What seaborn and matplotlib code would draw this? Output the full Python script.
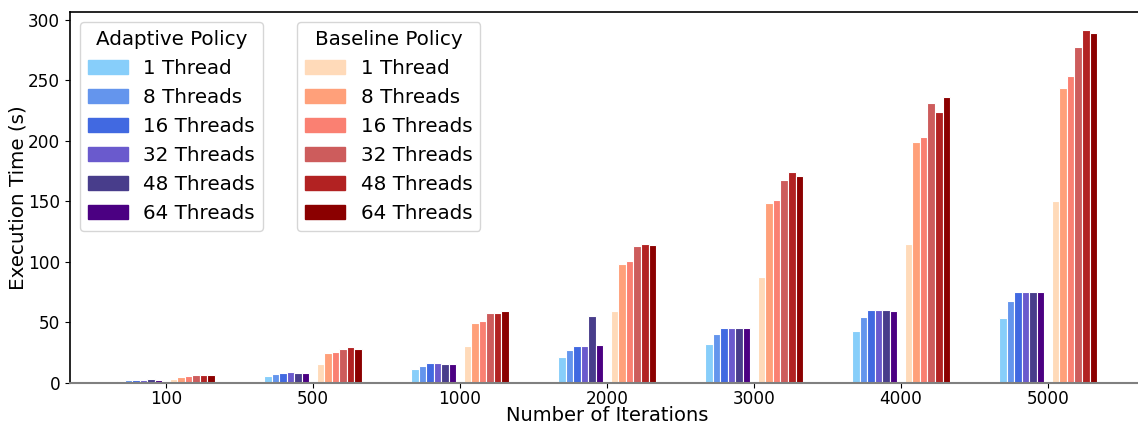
import pandas as pd
import seaborn as sns
import matplotlib.pyplot as plt
from matplotlib.patches import Patch

iterations = ["100", "500", "1000", "2000", "3000", "4000", "5000"]
threads = ["1 Thread", "8 Threads", "16 Threads", "32 Threads", "48 Threads", "64 Threads"]

# adaptive policy, one list per thread count
adaptive_1 = [1.1, 5.3, 11.3, 21.4, 32.0, 42.8, 53.6]
adaptive_8 = [2.0, 7.0, 13.8, 27.0, 40.0, 54.4, 67.6]
adaptive_16 = [2.0, 8.0, 16.3, 30.4, 45.0, 60.0, 75.0]
adaptive_32 = [2.0, 8.5, 16.3, 30.4, 45.0, 60.0, 75.0]
adaptive_48 = [2.7, 8.0, 15.5, 55.0, 45.0, 60.0, 75.0]
adaptive_64 = [2.0, 8.0, 15.5, 31.2, 45.0, 59.4, 75.0]

# baseline policy
baseline_1 = [2.8, 15.5, 30.4, 59.4, 87.5, 115.0, 150.3]
baseline_8 = [4.4, 24.5, 49.5, 98.5, 148.8, 199.0, 244.0]
baseline_16 = [5.2, 25.2, 51.0, 101.0, 151.3, 203.5, 254.0]
baseline_32 = [6.3, 27.7, 57.7, 113.0, 168.0, 231.7, 278.0]
baseline_48 = [6.3, 29.4, 57.7, 115.0, 174.6, 224.3, 292.0]
baseline_64 = [6.3, 27.7, 59.4, 114.0, 171.3, 236.7, 289.5]

adaptive_colors = ["lightskyblue", "cornflowerblue", "royalblue", "slateblue", "darkslateblue", "indigo"]
baseline_colors = ["peachpuff", "lightsalmon", "salmon", "indianred", "firebrick", "darkred"]

adaptive = [adaptive_1, adaptive_8, adaptive_16, adaptive_32, adaptive_48, adaptive_64]
baseline = [baseline_1, baseline_8, baseline_16, baseline_32, baseline_48, baseline_64]

rows = []
for t, vals in zip(threads, adaptive):
    for it, v in zip(iterations, vals):
        rows.append({"Iterations": it, "Series": "Adaptive " + t, "Time": v})
for t, vals in zip(threads, baseline):
    for it, v in zip(iterations, vals):
        rows.append({"Iterations": it, "Series": "Baseline " + t, "Time": v})
df = pd.DataFrame(rows)

# empty slot between the two policies
hue_order = ["Adaptive " + t for t in threads] + ["gap"] + ["Baseline " + t for t in threads]
palette = dict(zip(["Adaptive " + t for t in threads], adaptive_colors))
palette.update(dict(zip(["Baseline " + t for t in threads], baseline_colors)))
palette["gap"] = "white"

fig = plt.figure(figsize=(11.38, 4.24), dpi=100)
ax = fig.add_axes([70 / 1138, 41.3 / 424, 1073.6 / 1138, 370.4 / 424])

sns.barplot(data=df, x="Iterations", y="Time", hue="Series", hue_order=hue_order,
            order=iterations, palette=palette, width=0.667, errorbar=None,
            saturation=1, edgecolor="white", linewidth=0.8, legend=False, ax=ax)

ax.set_xlim(-0.653, 6.65)
ax.set_ylim(0, 306.4)
ax.set_yticks([0, 50, 100, 150, 200, 250, 300])
ax.tick_params(axis="both", labelsize=12.2)
ax.tick_params(axis="x", pad=1.5)
ax.set_xlabel("Number of Iterations", fontsize=14, labelpad=-1.5)
ax.set_ylabel("Execution Time (s)", fontsize=14.3, labelpad=0.5)
for side in ["left", "top", "right"]:
    ax.spines[side].set_linewidth(1.2)
ax.spines["bottom"].set_color("gray")
ax.spines["bottom"].set_linewidth(1.5)

h1 = [Patch(color=c, label=t) for c, t in zip(adaptive_colors, threads)]
h2 = [Patch(color=c, label=t) for c, t in zip(baseline_colors, threads)]
leg1 = ax.legend(handles=h1, title="Adaptive Policy", loc="upper left",
                 fontsize=14.3, title_fontsize=14.3)
ax.add_artist(leg1)
ax.legend(handles=h2, title="Baseline Policy", loc="upper left",
          bbox_to_anchor=(0.2024, 1), fontsize=14.3, title_fontsize=14.3)

fig.savefig("out.png", dpi=100)
